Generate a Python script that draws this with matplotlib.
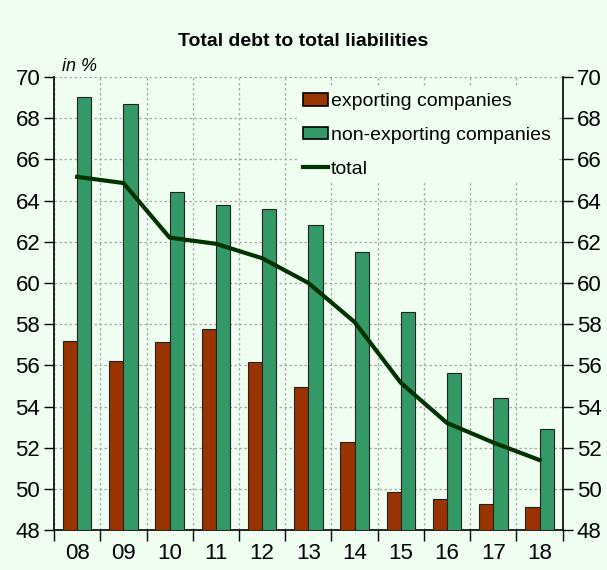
import numpy as np
import matplotlib.pyplot as plt

# DATA

years = ["08", "09", "10", "11", "12", "13", "14", "15", "16", "17", "18"]
exporting = [57.2, 56.2, 57.15, 57.75, 56.15, 54.95, 52.3, 49.85, 49.5, 49.25, 49.1]
non_exporting = [69.05, 68.7, 64.4, 63.8, 63.6, 62.8, 61.5, 58.6, 55.65, 54.4, 52.9]
total = [65.15, 64.85, 62.2, 61.9, 61.2, 60.0, 58.1, 55.15, 53.2, 52.25, 51.4]

# STYLE

plt.rcParams['font.family'] = ['Liberation Sans', 'DejaVu Sans']
bg = "#effef1"
c_exp = "#993300"
c_non = "#339966"
c_tot = "#003300"

fig = plt.figure(figsize=(6.07, 5.70), dpi=100, facecolor=bg)
ax = fig.add_axes([0.089, 0.07, 0.838, 0.795])
ax.set_facecolor(bg)

x = np.arange(len(years))
w = 0.31

b1 = ax.bar(x - w / 2, np.array(exporting) - 48, w, bottom=48, color=c_exp,
            edgecolor="#222222", linewidth=0.8, label="exporting companies", zorder=3)
b2 = ax.bar(x + w / 2, np.array(non_exporting) - 48, w, bottom=48, color=c_non,
            edgecolor="#222222", linewidth=0.8, label="non-exporting companies", zorder=3)
l1, = ax.plot(x, total, color=c_tot, linewidth=3, label="total", zorder=4)

# AXES

ax.set_xlim(-0.5, len(years) - 0.5)
ax.set_ylim(48, 70)
ax.set_yticks(range(48, 71, 2))
ax.set_xticks(x)
ax.set_xticklabels(years)
ax.set_xticks(np.arange(-0.5, len(years), 1), minor=True)
ax.tick_params(axis="x", which="major", length=0, labelsize=16, pad=9)
ax.tick_params(axis="x", which="minor", length=8, direction="out", width=1)
ax.tick_params(axis="y", labelsize=16, length=7, direction="out", width=1, pad=3,
               left=True, right=True, labelleft=True, labelright=True)
ax.grid(True, axis="y", linestyle=(0, (2, 2)), color="#aaaaaa", linewidth=0.9, zorder=0)
ax.grid(True, axis="x", which="minor", linestyle=(0, (2, 2)), color="#aaaaaa",
        linewidth=0.9, zorder=0)

ax.spines["top"].set_visible(False)
for s in ["left", "right", "bottom"]:
    ax.spines[s].set_linewidth(1.2)

# TEXT

fig.text(0.5, 0.927, "Total debt to total liabilities", ha="center", va="center",
         fontsize=14, fontweight="bold")
ax.text(0.015, 1.005, "in %", transform=ax.transAxes, fontsize=13,
        style="italic", ha="left", va="bottom")

leg = ax.legend([b1, b2, l1], ["exporting companies", "non-exporting companies", "total"],
                loc="upper left", bbox_to_anchor=(0.47, 0.985), frameon=True,
                facecolor=bg, edgecolor="none", framealpha=1, fancybox=False,
                fontsize=14, handlelength=1.3, handleheight=0.6, handletextpad=0.15,
                labelspacing=0.85, borderaxespad=0.2, borderpad=0.3)
leg.set_zorder(5)
for p in leg.get_patches():
    p.set_edgecolor("black")
    p.set_linewidth(1.2)

fig.savefig("out.png", dpi=100, facecolor=bg)
